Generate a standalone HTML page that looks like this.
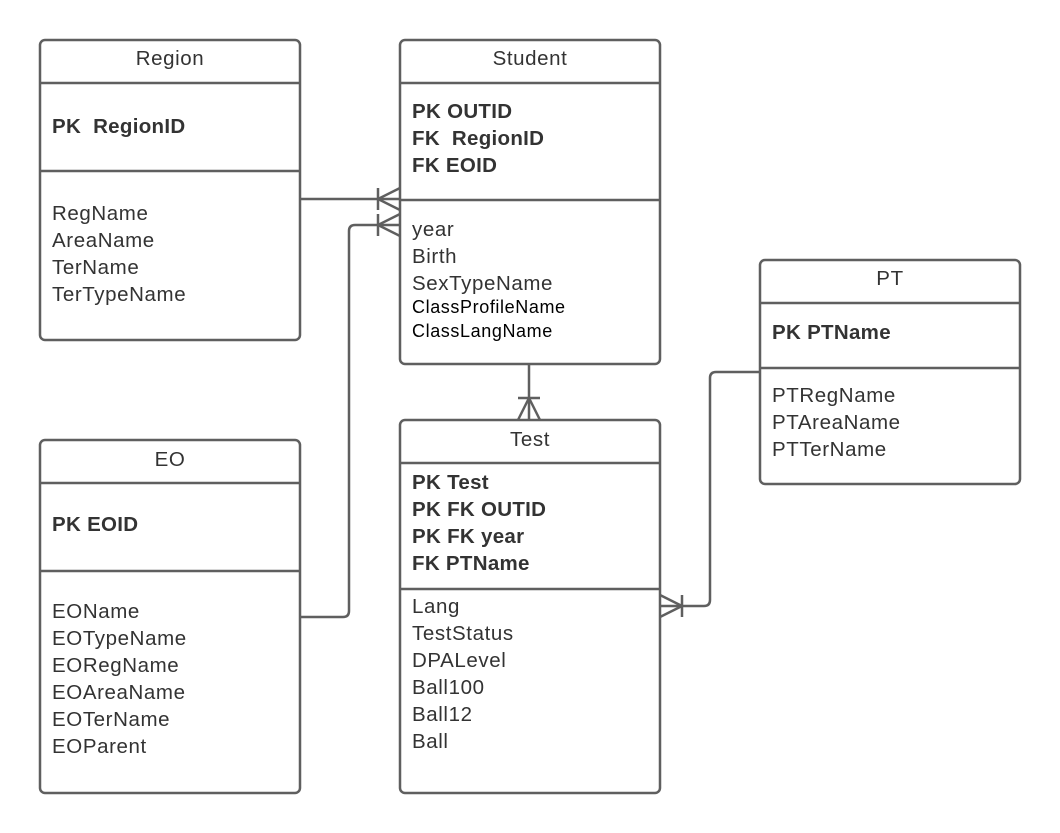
<!DOCTYPE html>
<html><head><meta charset="utf-8"><style>
html,body{margin:0;padding:0;background:#fff;}
svg{display:block;}
text{font-family:"Liberation Sans",sans-serif;font-size:20.5px;letter-spacing:0.6px;fill:#333;white-space:pre;}
.b{font-weight:bold;letter-spacing:0.3px;}
.t{text-anchor:middle;}
.s{font-size:18px;fill:#000;letter-spacing:0.6px;}
</style></head><body>
<svg width="1060" height="833" viewBox="0 0 1060 833" xmlns="http://www.w3.org/2000/svg">
<g fill="none" stroke="#5f5f5f" stroke-width="2.5">
<rect x="40" y="40" width="260" height="300" rx="5"/>
<line x1="40" y1="83" x2="300" y2="83"/><line x1="40" y1="171" x2="300" y2="171"/>
<rect x="400" y="40" width="260" height="324" rx="5"/>
<line x1="400" y1="83" x2="660" y2="83"/><line x1="400" y1="200" x2="660" y2="200"/>
<rect x="760" y="260" width="260" height="224" rx="5"/>
<line x1="760" y1="303" x2="1020" y2="303"/><line x1="760" y1="368" x2="1020" y2="368"/>
<rect x="40" y="440" width="260" height="353" rx="5"/>
<line x1="40" y1="483" x2="300" y2="483"/><line x1="40" y1="571" x2="300" y2="571"/>
<rect x="400" y="420" width="260" height="373" rx="5"/>
<line x1="400" y1="463" x2="660" y2="463"/><line x1="400" y1="589" x2="660" y2="589"/>
<line x1="300" y1="199" x2="400" y2="199"/>
<line x1="378" y1="188" x2="378" y2="210"/>
<polyline points="400,188 378,199 400,210"/>
<path d="M300,617 H343 Q349,617 349,611 V231 Q349,225 355,225 H400"/>
<line x1="378" y1="214" x2="378" y2="236"/>
<polyline points="400,214 378,225 400,236"/>
<line x1="529" y1="364" x2="529" y2="420"/>
<line x1="518" y1="398" x2="540" y2="398"/>
<polyline points="518,420 529,398 540,420"/>
<path d="M660,606 H704 Q710,606 710,600 V378 Q710,372 716,372 H760"/>
<line x1="682" y1="595" x2="682" y2="617"/>
<polyline points="660,595 682,606 660,617"/>
</g>
<text class="t" x="170" y="65">Region</text>
<text class="b" x="52" y="133">PK&#160;&#160;RegionID</text>
<text x="52" y="220">RegName</text>
<text x="52" y="247">AreaName</text>
<text x="52" y="274">TerName</text>
<text x="52" y="301">TerTypeName</text>
<text class="t" x="530" y="65">Student</text>
<text class="b" x="412" y="118">PK OUTID</text>
<text class="b" x="412" y="145">FK&#160;&#160;RegionID</text>
<text class="b" x="412" y="172">FK EOID</text>
<text x="412" y="236">year</text>
<text x="412" y="263">Birth</text>
<text x="412" y="290">SexTypeName</text>
<text class="s" x="412" y="313">ClassProfileName</text>
<text class="s" x="412" y="337">ClassLangName</text>
<text class="t" x="890" y="285">PT</text>
<text class="b" x="772" y="339">PK PTName</text>
<text x="772" y="402">PTRegName</text>
<text x="772" y="429">PTAreaName</text>
<text x="772" y="456">PTTerName</text>
<text class="t" x="170" y="466">EO</text>
<text class="b" x="52" y="531">PK EOID</text>
<text x="52" y="618">EOName</text>
<text x="52" y="645">EOTypeName</text>
<text x="52" y="672">EORegName</text>
<text x="52" y="699">EOAreaName</text>
<text x="52" y="726">EOTerName</text>
<text x="52" y="753">EOParent</text>
<text class="t" x="530" y="446">Test</text>
<text class="b" x="412" y="489">PK Test</text>
<text class="b" x="412" y="516">PK FK OUTID</text>
<text class="b" x="412" y="543">PK FK year</text>
<text class="b" x="412" y="570">FK PTName</text>
<text x="412" y="613">Lang</text>
<text x="412" y="640">TestStatus</text>
<text x="412" y="667">DPALevel</text>
<text x="412" y="694">Ball100</text>
<text x="412" y="721">Ball12</text>
<text x="412" y="748">Ball</text>
</svg>
</body></html>
